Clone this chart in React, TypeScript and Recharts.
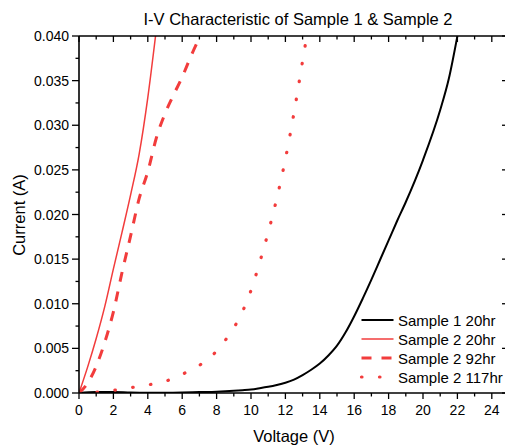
import React from 'react';
import { LineChart, Line, XAxis, YAxis } from 'recharts';

const FONT = 'Arial, "Liberation Sans", sans-serif';
const BLACK = '#000000';
const RED = '#f23c3c';

// Axis ticks
const voltageTicks = [0, 1, 2, 3, 4, 5, 6, 7, 8, 9, 10, 11, 12, 13, 14, 15, 16, 17, 18, 19, 20, 21, 22, 23, 24];
const currentTicks = [0, 0.0025, 0.005, 0.0075, 0.01, 0.0125, 0.015, 0.0175, 0.02, 0.0225, 0.025, 0.0275, 0.03, 0.0325, 0.035, 0.0375, 0.04];

// Sample 1 20hr
const s1Voltage = [0, 1, 2, 3, 4, 5, 6, 7, 8, 9, 9.5, 10, 10.5, 11, 11.5, 12, 12.5, 13, 13.5, 14, 14.5, 15, 15.5, 16, 16.5, 17, 17.5, 18, 18.5, 19, 20, 21, 21.5, 22];
const s1Current = [0, 0.0001, 0.0001, 0.00005, 0.00003, 0.00003, 0.00005, 0.0001, 0.00015, 0.00025, 0.00032, 0.0004, 0.00054, 0.0007, 0.0009, 0.00115, 0.0015, 0.002, 0.0026, 0.0033, 0.0042, 0.0053, 0.0068, 0.0086, 0.0106, 0.0127, 0.0149, 0.0171, 0.0193, 0.0214, 0.0261, 0.0317, 0.0352, 0.04];

// Sample 2 20hr
const s2aVoltage = [0, 0.5, 1, 1.5, 2, 2.5, 3, 3.5, 4, 4.45];
const s2aCurrent = [0, 0.0029, 0.0061, 0.0097, 0.0139, 0.018, 0.0222, 0.0268, 0.0331, 0.04];

// Sample 2 92hr
const s2bVoltage = [0, 0.5, 1, 1.5, 2, 2.5, 3, 3.5, 4, 4.5, 5, 5.5, 6, 6.5, 7.05];
const s2bCurrent = [0, 0.0011, 0.003, 0.0057, 0.0091, 0.0135, 0.0176, 0.0218, 0.0248, 0.0286, 0.0313, 0.0334, 0.0354, 0.0377, 0.04];

// Sample 2 117hr
const s2cVoltage = [0, 1, 2, 3, 4, 5, 6, 7, 7.5, 8, 8.5, 9, 9.5, 10, 10.5, 11, 11.5, 12, 12.5, 13, 13.2];
const s2cCurrent = [0, 0.0001, 0.0003, 0.0006, 0.0009, 0.0013, 0.0021, 0.0031, 0.0038, 0.0047, 0.0059, 0.0073, 0.0091, 0.0115, 0.0146, 0.018, 0.0218, 0.0262, 0.0314, 0.0372, 0.0395];

const seriesNames = ['Sample 1 20hr', 'Sample 2 20hr', 'Sample 2 92hr', 'Sample 2 117hr'];

const toPoints = (v: number[], c: number[]) => v.map((x, k) => ({ v: x, i: c[k] }));

const s1 = toPoints(s1Voltage, s1Current);
const s2a = toPoints(s2aVoltage, s2aCurrent);
const s2b = toPoints(s2bVoltage, s2bCurrent);
const s2c = toPoints(s2cVoltage, s2cCurrent);

const isMajorV = (v: number) => Math.round(v) % 2 === 0;
const isMajorI = (c: number) => Math.round(c / 0.0025) % 2 === 0;

const TICK_W = 1.3;

const BottomTick = (props: any) => {
  const { x, y, payload } = props;
  const major = isMajorV(payload.value);
  return (
    <g>
      <line x1={x} x2={x} y1={y} y2={y + (major ? 6 : 3.5)} stroke={BLACK} strokeWidth={TICK_W} />
      {major && (
        <text x={x} y={y + 21.5} textAnchor="middle" fontSize={14} fontFamily={FONT} fill={BLACK}>
          {payload.value}
        </text>
      )}
    </g>
  );
};

const TopTick = (props: any) => {
  const { x, y, payload } = props;
  const major = isMajorV(payload.value);
  return <line x1={x} x2={x} y1={y} y2={y + (major ? 6 : 3.5)} stroke={BLACK} strokeWidth={TICK_W} />;
};

const LeftTick = (props: any) => {
  const { x, y, payload } = props;
  const major = isMajorI(payload.value);
  return (
    <g>
      <line x1={x} x2={x - (major ? 7 : 3.5)} y1={y} y2={y} stroke={BLACK} strokeWidth={TICK_W} />
      {major && (
        <text x={x - 10} y={y + 5} textAnchor="end" fontSize={14} fontFamily={FONT} fill={BLACK}>
          {payload.value.toFixed(3)}
        </text>
      )}
    </g>
  );
};

const RightTick = (props: any) => {
  const { x, y, payload } = props;
  const major = isMajorI(payload.value);
  return <line x1={x} x2={x - (major ? 7 : 3.5)} y1={y} y2={y} stroke={BLACK} strokeWidth={TICK_W} />;
};

const XTitle = () => (
  <text x={294} y={442} textAnchor="middle" fontSize={16.5} fontFamily={FONT} fill={BLACK}>
    Voltage (V)
  </text>
);

const YTitle = () => (
  <text x={25} y={215} transform="rotate(-90 25 215)" textAnchor="middle" fontSize={16.5} fontFamily={FONT} fill={BLACK}>
    Current (A)
  </text>
);

const legendRows = [
  { name: seriesNames[0], color: BLACK, width: 2, dash: undefined as string | undefined, cap: 'butt' },
  { name: seriesNames[1], color: RED, width: 1.5, dash: undefined as string | undefined, cap: 'butt' },
  { name: seriesNames[2], color: RED, width: 3, dash: '10 10', cap: 'butt' },
  { name: seriesNames[3], color: RED, width: 3.2, dash: '0.5 17.5', cap: 'round' },
];

const axisLine = { stroke: BLACK, strokeWidth: 1.6 };

export default function App() {
  return (
    <div
      style={{
        position: 'absolute',
        left: 0,
        top: 0,
        width: 505,
        height: 445,
        overflow: 'hidden',
        background: '#ffffff',
        fontFamily: FONT,
      }}
    >
      <LineChart width={510} height={445} margin={{ top: 35, right: 0, bottom: 0, left: 0 }}>
        <XAxis
          xAxisId="bottom"
          dataKey="v"
          type="number"
          domain={[0, 25]}
          ticks={voltageTicks}
          interval={0}
          height={52}
          tickSize={0}
          tickMargin={0}
          tickLine={false}
          axisLine={axisLine}
          tick={(p: any) => <BottomTick {...p} />}
          label={{ content: () => <XTitle /> }}
          allowDataOverflow
        />
        <XAxis
          xAxisId="top"
          orientation="top"
          dataKey="v"
          type="number"
          domain={[0, 25]}
          ticks={voltageTicks}
          interval={0}
          height={1}
          tickSize={0}
          tickMargin={0}
          tickLine={false}
          axisLine={axisLine}
          tick={(p: any) => <TopTick {...p} />}
          allowDataOverflow
        />
        <YAxis
          yAxisId="left"
          type="number"
          domain={[0, 0.04]}
          ticks={currentTicks}
          interval={0}
          width={79}
          tickSize={0}
          tickMargin={0}
          tickLine={false}
          axisLine={axisLine}
          tick={(p: any) => <LeftTick {...p} />}
          label={{ content: () => <YTitle /> }}
          allowDataOverflow
        />
        <YAxis
          yAxisId="right"
          orientation="right"
          type="number"
          domain={[0, 0.04]}
          ticks={currentTicks}
          interval={0}
          width={1}
          tickSize={0}
          tickMargin={0}
          tickLine={false}
          axisLine={axisLine}
          tick={(p: any) => <RightTick {...p} />}
          allowDataOverflow
        />
        <Line
          xAxisId="bottom"
          yAxisId="left"
          data={s1}
          dataKey="i"
          name={seriesNames[0]}
          type="monotone"
          stroke={BLACK}
          strokeWidth={2}
          dot={false}
          activeDot={false}
          isAnimationActive={false}
        />
        <Line
          xAxisId="bottom"
          yAxisId="left"
          data={s2a}
          dataKey="i"
          name={seriesNames[1]}
          type="monotone"
          stroke={RED}
          strokeWidth={1.5}
          dot={false}
          activeDot={false}
          isAnimationActive={false}
        />
        <Line
          xAxisId="bottom"
          yAxisId="left"
          data={s2b}
          dataKey="i"
          name={seriesNames[2]}
          type="monotone"
          stroke={RED}
          strokeWidth={3}
          strokeDasharray="10 10"
          dot={false}
          activeDot={false}
          isAnimationActive={false}
        />
        <Line
          xAxisId="bottom"
          yAxisId="left"
          data={s2c}
          dataKey="i"
          name={seriesNames[3]}
          type="monotone"
          stroke={RED}
          strokeWidth={3.2}
          strokeDasharray="0.5 17.5"
          strokeLinecap="round"
          dot={false}
          activeDot={false}
          isAnimationActive={false}
        />
      </LineChart>
      <svg
        width={505}
        height={445}
        style={{ position: 'absolute', left: 0, top: 0, pointerEvents: 'none' }}
      >
        <text x={298} y={25} textAnchor="middle" fontSize={16.5} fontFamily={FONT} fill={BLACK}>
          I-V Characteristic of Sample 1 &amp; Sample 2
        </text>
        {legendRows.map((r, k) => {
          const y = 320 + k * 19;
          return (
            <g key={r.name}>
              <line
                x1={361.5}
                x2={393.5}
                y1={y}
                y2={y}
                stroke={r.color}
                strokeWidth={r.width}
                strokeDasharray={r.dash}
                strokeLinecap={r.cap as any}
              />
              <text x={398} y={y + 5.5} fontSize={15} fontFamily={FONT} fill={BLACK}>
                {r.name}
              </text>
            </g>
          );
        })}
      </svg>
    </div>
  );
}
